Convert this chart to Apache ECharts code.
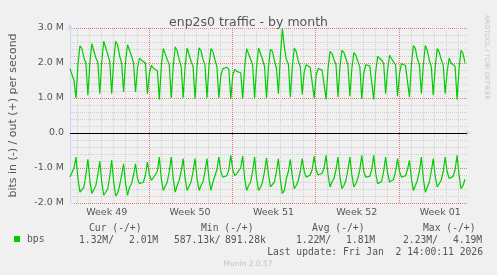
<!DOCTYPE html>
<html><head><meta charset="utf-8">
<script src="https://cdn.jsdelivr.net/npm/echarts@6/dist/echarts.min.js"></script>
<style>html,body{margin:0;padding:0;background:#F0F0F0;}#c{width:497px;height:275px;}</style>
</head><body><div id="c"></div>
<script>
// sampling step (hours) of the series below; hour 0 = left edge of the plot
const sampleHours = 4;

// out (+) traffic, Mbit/s, one value every 4 h
const outBps = [
  1.84, 1.84, 1.50,
  1.00, 1.95, 2.49, 2.42, 2.15, 2.00,
  1.08, 2.00, 2.55, 2.50, 2.15, 2.03,
  1.12, 2.05, 2.62, 2.58, 2.25, 2.05,
  1.12, 2.05, 2.62, 2.52, 2.20, 2.00,
  1.17, 2.05, 2.52, 2.56, 2.20, 2.00,
  1.17, 1.85, 2.14, 2.08, 2.05, 2.00,
  1.12, 1.70, 1.93, 1.85, 1.82, 1.78,
  0.96, 1.90, 2.41, 2.36, 2.10, 1.95,
  1.00, 1.90, 2.46, 2.35, 2.10, 1.90,
  1.00, 1.90, 2.43, 2.38, 2.05, 1.90,
  0.98, 1.90, 2.43, 2.35, 2.10, 1.95,
  1.00, 1.90, 2.41, 2.32, 2.10, 1.90,
  1.00, 1.65, 1.84, 1.89, 1.88, 1.82,
  0.98, 1.65, 1.82, 1.76, 1.74, 1.72,
  0.98, 1.90, 2.41, 2.36, 2.10, 1.95,
  1.00, 1.90, 2.43, 2.38, 2.10, 1.90,
  1.00, 1.90, 2.39, 2.33, 2.05, 1.85,
  1.12, 2.20, 2.98, 2.45, 2.10, 1.98,
  1.03, 1.90, 2.43, 2.32, 2.05, 1.90,
  1.10, 1.75, 1.95, 1.92, 1.88, 1.84,
  1.00, 1.65, 1.84, 1.82, 1.80, 1.78,
  0.96, 1.85, 2.33, 2.27, 2.10, 1.95,
  1.03, 1.90, 2.36, 2.30, 2.12, 1.95,
  1.05, 1.85, 2.30, 2.22, 2.05, 1.90,
  0.98, 1.70, 1.95, 1.93, 1.92, 1.88,
  0.96, 1.75, 2.19, 2.14, 2.08, 2.00,
  1.12, 1.80, 2.22, 2.12, 2.08, 1.95,
  1.05, 1.70, 1.98, 1.95, 1.93, 1.88,
  1.03, 1.95, 2.50, 2.41, 2.12, 1.95,
  1.12, 1.95, 2.50, 2.36, 2.08, 1.90,
  1.08, 1.90, 2.41, 2.31, 2.10, 1.95,
  1.12, 1.75, 2.14, 2.00, 1.95, 1.90,
  0.96, 1.85, 2.36, 2.27, 2.01
];

// in (-) traffic, Mbit/s (drawn negative), one value every 4 h
const inBps = [
  -1.26, -1.25, -1.00,
  -0.69, -1.30, -1.69, -1.66, -1.55, -1.20,
  -0.75, -1.35, -1.73, -1.70, -1.50, -1.20,
  -0.81, -1.40, -1.78, -1.75, -1.60, -1.25,
  -0.78, -1.40, -1.80, -1.72, -1.50, -1.20,
  -0.88, -1.45, -1.78, -1.55, -1.45, -1.20,
  -0.88, -1.30, -1.45, -1.40, -1.40, -1.20,
  -0.83, -1.20, -1.35, -1.28, -1.26, -1.10,
  -0.69, -1.30, -1.64, -1.60, -1.40, -1.10,
  -0.69, -1.30, -1.69, -1.50, -1.35, -1.10,
  -0.73, -1.30, -1.64, -1.60, -1.40, -1.10,
  -0.73, -1.30, -1.64, -1.50, -1.40, -1.10,
  -0.73, -1.30, -1.64, -1.40, -1.35, -1.05,
  -0.69, -1.10, -1.26, -1.24, -1.22, -1.05,
  -0.64, -1.05, -1.22, -1.16, -1.16, -1.00,
  -0.66, -1.30, -1.64, -1.50, -1.40, -1.10,
  -0.69, -1.30, -1.64, -1.55, -1.40, -1.10,
  -0.71, -1.20, -1.54, -1.54, -1.40, -1.10,
  -0.73, -1.35, -1.73, -1.64, -1.30, -1.10,
  -0.75, -1.25, -1.59, -1.50, -1.35, -1.10,
  -0.73, -1.10, -1.26, -1.23, -1.20, -1.05,
  -0.66, -1.05, -1.20, -1.16, -1.15, -1.00,
  -0.64, -1.20, -1.54, -1.40, -1.30, -1.05,
  -0.69, -1.25, -1.59, -1.50, -1.35, -1.05,
  -0.69, -1.20, -1.54, -1.45, -1.30, -1.05,
  -0.64, -1.10, -1.26, -1.25, -1.24, -1.05,
  -0.64, -1.15, -1.45, -1.40, -1.38, -1.10,
  -0.69, -1.15, -1.40, -1.35, -1.33, -1.10,
  -0.73, -1.10, -1.26, -1.23, -1.22, -1.05,
  -0.78, -1.30, -1.64, -1.50, -1.35, -1.10,
  -0.69, -1.30, -1.69, -1.55, -1.40, -1.10,
  -0.73, -1.25, -1.54, -1.45, -1.35, -1.10,
  -0.69, -1.10, -1.30, -1.26, -1.24, -1.05,
  -0.64, -1.20, -1.59, -1.50, -1.32
];

// x axis (hours from left edge)
const weekStarts = [158, 326, 494, 662];
const weekLabels = ['Week 49', 'Week 50', 'Week 51', 'Week 52', 'Week 01'];
const weekLabelHours = [74, 242, 410, 578, 746];
const firstDayLine = 14;

// legend / statistics
const statHeaders = ['Cur (-/+)', 'Min (-/+)', 'Avg (-/+)', 'Max (-/+)'];
const statIn = ['1.32M/', '587.13k/', '1.22M/', '2.23M/'];
const statOut = ['2.01M', '891.28k', '1.81M', '4.19M'];
const lastUpdate = 'Last update: Fri Jan  2 14:00:11 2026';

const GREEN = '#00CC00';
const AXIS = '#CFD6F8';
const TXT = '#555555';
const MGRID = 'rgba(230,70,70,0.7)';
const GRID = '#cfcfcf';
const SANS = 'DejaVu Sans';
const MONO = 'DejaVu Sans Mono';

const outData = outBps.map((v, i) => [i * sampleHours, v]);
const inData = inBps.map((v, i) => [i * sampleHours, v]);

// vertical grid lines; +1 h (= half a pixel) keeps the 1px dotted lines crisp
const PIX_HALF = 1;
const vMarks = [];
for (let h = firstDayLine; h < 800; h += 24) {
  const isWeek = weekStarts.indexOf(h) >= 0;
  vMarks.push({ xAxis: h + PIX_HALF, lineStyle: { color: isWeek ? MGRID : GRID, type: [1, 1], width: 1 } });
}

const hdrX = [89, 201, 312, 423];
const inX = [79, 174, 296, 403];
const outX = [129, 225, 346, 453];
const graphics = [];
const monoFont = '9.7px "' + MONO + '"';
statHeaders.forEach((t, i) => graphics.push({ type: 'text', x: hdrX[i], y: 228, style: { text: t, font: monoFont, fill: TXT, textVerticalAlign: 'middle' } }));
statIn.forEach((t, i) => graphics.push({ type: 'text', x: inX[i], y: 240, style: { text: t, font: monoFont, fill: TXT, textVerticalAlign: 'middle' } }));
statOut.forEach((t, i) => graphics.push({ type: 'text', x: outX[i], y: 240, style: { text: t, font: monoFont, fill: TXT, textVerticalAlign: 'middle' } }));
graphics.push({ type: 'text', x: 483, y: 252, style: { text: lastUpdate, font: monoFont, fill: TXT, textAlign: 'right', textVerticalAlign: 'middle' } });
graphics.push({ type: 'text', x: 248, y: 264, style: { text: 'Munin 2.0.57', font: '7.5px "' + SANS + '"', fill: '#c4c4c4', textAlign: 'center', textVerticalAlign: 'middle' } });
graphics.push({ type: 'text', x: 487, y: 15, rotation: -Math.PI / 2, style: { text: 'RRDTOOL / TOBI OETIKER', font: '6.6px "' + SANS + '"', fill: '#c4c4c4', textAlign: 'left', textVerticalAlign: 'middle' } });

const chart = echarts.init(document.getElementById('c'), null, { renderer: 'canvas' });
chart.setOption({
  animation: false,
  backgroundColor: '#F0F0F0',
  title: {
    text: 'enp2s0 traffic - by month', left: 'center', top: 11,
    textStyle: { fontFamily: SANS, fontSize: 12.5, fontWeight: 'normal', color: TXT }
  },
  legend: {
    data: ['bps'], left: 14, top: 234, padding: 0,
    icon: 'rect', itemWidth: 6, itemHeight: 6,
    textStyle: { fontFamily: MONO, fontSize: 9.7, color: TXT, padding: [0, 0, 0, 2] }
  },
  grid: { left: 67, right: 30, top: 28, bottom: 72, containLabel: false },
  xAxis: {
    type: 'value', min: 0, max: 800,
    axisLine: { show: true, lineStyle: { color: AXIS, width: 1 }, symbol: ['none', 'arrow'], symbolSize: [5, 6], symbolOffset: [0, 4] },
    axisTick: { show: true, customValues: weekStarts, length: 3, lineStyle: { color: AXIS } },
    axisLabel: {
      customValues: weekLabelHours, margin: 5, color: TXT, fontFamily: SANS, fontSize: 9.5,
      formatter: v => weekLabels[weekLabelHours.indexOf(v)]
    },
    splitLine: { show: false }
  },
  yAxis: {
    type: 'value', min: -2, max: 3, interval: 1,
    name: 'bits in (-) / out (+) per second', nameLocation: 'middle', nameRotate: 90, nameGap: 51,
    nameTextStyle: { fontFamily: SANS, fontSize: 11, color: TXT },
    axisLine: { show: true, lineStyle: { color: AXIS, width: 1 }, symbol: ['none', 'arrow'], symbolSize: [5, 6], symbolOffset: [0, 4] },
    axisTick: { show: true, inside: true, length: 3, lineStyle: { color: AXIS } },
    minorTick: { show: true, splitNumber: 5, length: 2, lineStyle: { color: AXIS } },
    axisLabel: {
      margin: 6, color: TXT, fontFamily: SANS, fontSize: 9.5,
      formatter: v => v === 0 ? '0.0' : v.toFixed(1) + ' M'
    },
    splitLine: { show: true, lineStyle: { color: MGRID, type: [1, 1], width: 1 } },
    minorSplitLine: { show: true, lineStyle: { color: GRID, type: [1, 1], width: 1 } }
  },
  graphic: graphics,
  series: [
    {
      name: 'bps', type: 'line', data: outData, showSymbol: false, z: 3,
      lineStyle: { color: GREEN, width: 1.2 }, itemStyle: { color: GREEN },
      markLine: { silent: true, symbol: 'none', z: 1, label: { show: false }, data: vMarks, animation: false }
    },
    {
      name: 'bps', type: 'line', data: inData, showSymbol: false, z: 3,
      lineStyle: { color: GREEN, width: 1.2 }, itemStyle: { color: GREEN },
      markLine: { silent: true, symbol: 'none', z: 4, label: { show: false }, animation: false,
        data: [{ yAxis: 0, lineStyle: { color: '#000', type: 'solid', width: 1 } }] }
    }
  ]
});
</script>
</body></html>
